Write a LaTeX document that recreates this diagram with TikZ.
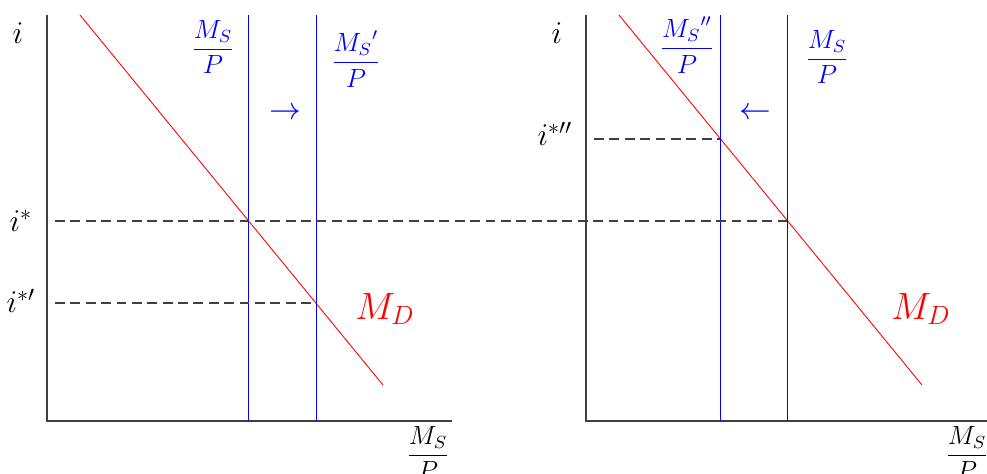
\documentclass[tikz,border=0pt]{standalone}
\usepackage{amsmath}
\usepackage{amssymb}
\usepackage{tikz}
\usetikzlibrary{positioning, calc}

\begin{document}
\begin{tikzpicture}[x=1.6cm, y=1.6cm,
        axis/.style={semithick, black!75},
        supply/.style={blue},
        demand/.style={red},
        level/.style={dash pattern=on 4.5pt off 2.5pt, black!75, semithick},
        every node/.style={inner sep=1pt}]
        \useasboundingbox (-0.47,-0.52) rectangle (9.40,4.21);

        % Left panel: axes
        \coordinate (topL) at (0,4.06);
        \coordinate (origL) at (0,0);
        \coordinate (endL) at (4.05,0);
        \draw[axis] (topL) -- (origL) -- (endL);
        \node (iL) at (-0.29,3.88) {\Large $i$};
        \node (xlabL) at (3.81,-0.32) {\large $\dfrac{M_S}{P}$};

        % Left panel: curves
        \coordinate (mdTopL) at (0.33,4.06);
        \coordinate (mdBotL) at (3.36,0.36);
        \draw[demand] (mdTopL) -- (mdBotL);
        \coordinate (msTopA) at (2.01,4.06);
        \coordinate (msBotA) at (2.01,0);
        \coordinate (msTopB) at (2.69,4.06);
        \coordinate (msBotB) at (2.69,0);
        \draw[supply] (msTopA) -- (msBotA);
        \draw[supply] (msTopB) -- (msBotB);
        \node[blue] (msA) at (1.66,3.74) {\large $\dfrac{M_S}{P}$};
        \node[blue] (msB) at (3.09,3.62) {\large $\dfrac{{M_S}'}{P}$};
        \node[blue] (shiftR) at (2.38,3.07) {\Large $\rightarrow$};
        \node[red] (mdL) at (3.38,1.12) {\fontsize{17}{20}\selectfont $M_D$};

        % Left panel: levels
        \node (istar) at (-0.26,2.00) {\Large $i^*$};
        \node (istarA) at (-0.26,1.20) {\Large $i^{*\prime}$};
        \coordinate (dStar) at (0.08,2.00);
        \coordinate (dStarA) at (0.08,1.18);
        \coordinate (eqA) at (2.69,1.18);
        \draw[level] (dStarA) -- (eqA);

        % Right panel: axes
        \coordinate (topR) at (5.39,4.06);
        \coordinate (origR) at (5.39,0);
        \coordinate (endR) at (9.44,0);
        \draw[axis] (topR) -- (origR) -- (endR);
        \node (iR) at (5.10,3.88) {\Large $i$};
        \node (xlabR) at (9.20,-0.32) {\large $\dfrac{M_S}{P}$};

        % Right panel: curves
        \coordinate (mdTopR) at (5.72,4.06);
        \coordinate (mdBotR) at (8.75,0.36);
        \draw[demand] (mdTopR) -- (mdBotR);
        \coordinate (msTopC) at (6.73,4.06);
        \coordinate (msBotC) at (6.73,0);
        \coordinate (msTopD) at (7.40,4.06);
        \coordinate (msBotD) at (7.40,0);
        \draw[supply] (msTopC) -- (msBotC);
        \draw[supply] (msTopD) -- (msBotD);
        \node[blue] (msC) at (6.40,3.76) {\large $\dfrac{{M_S}''}{P}$};
        \node[blue] (msD) at (7.80,3.64) {\large $\dfrac{M_S}{P}$};
        \node[blue] (shiftL) at (7.08,3.07) {\Large $\leftarrow$};
        \node[red] (mdR) at (8.74,1.12) {\fontsize{17}{20}\selectfont $M_D$};

        % Right panel: levels
        \node (istarB) at (5.08,2.87) {\Large $i^{*\prime\prime}$};
        \coordinate (dStarB) at (5.47,2.82);
        \coordinate (eqB) at (6.73,2.82);
        \coordinate (eqStar) at (7.40,2.00);
        \draw[level] (dStarB) -- (eqB);
        \draw[level] (dStar) -- (eqStar);
    \end{tikzpicture}
\end{document}
